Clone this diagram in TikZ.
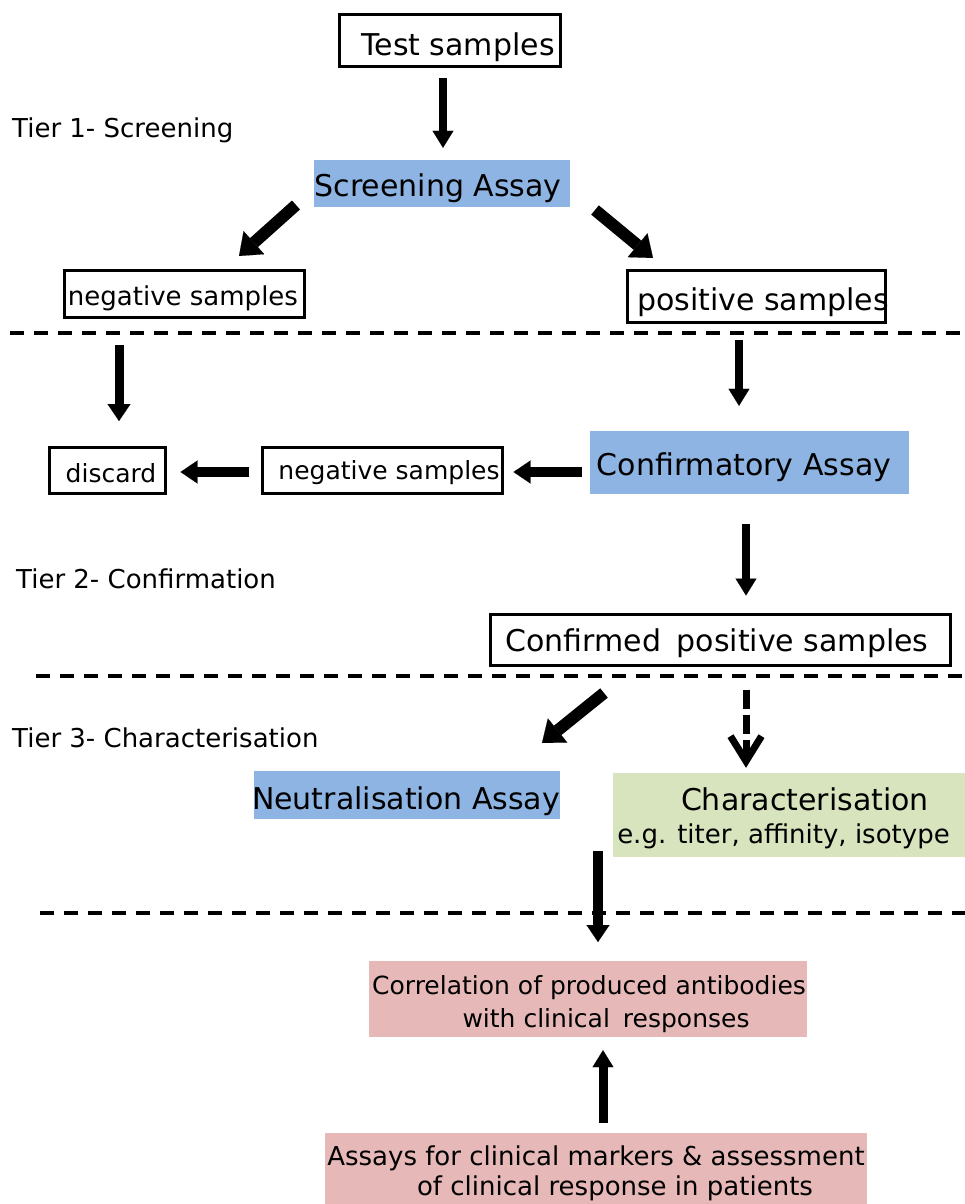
\documentclass[tikz,border=0pt]{standalone}
\usepackage{fontspec}
\setmainfont{DejaVu Sans}
\usetikzlibrary{arrows.meta}
\definecolor{bluef}{HTML}{8DB4E2}
\definecolor{greenf}{HTML}{D7E4BD}
\definecolor{pinkf}{HTML}{E6B9B8}
% width, horizontal shift, vertical drop, text
\newcommand{\bt}[4]{\raisebox{-#3pt}[\height][\depth]{\makebox[#1pt]{\hspace*{#2pt}#4}}}
\newcommand{\fs}[1]{\fontsize{#1}{33}\selectfont}
\begin{document}
\begin{tikzpicture}[x=1pt,y=-1pt,
  box/.style={draw, line width=3pt, inner sep=0pt},
  fillbox/.style={inner sep=0pt},
  tier/.style={anchor=west, inner sep=0pt, font=\fs{26}},
  vert/.style={line width=8pt, -{Triangle[length=17pt,width=21pt,line width=0.1pt]}},
  horiz/.style={line width=10pt, -{Triangle[length=17pt,width=23pt,line width=0.1pt]}},
  fat/.style={line width=12pt, -{Triangle[length=20pt,width=31pt,line width=0.1pt]}},
  dasharrow/.style={line width=7pt, dash pattern=on 19pt off 6pt, -{Straight Barb[length=25pt,width=31pt]}},
  sepline/.style={line width=4pt, dash pattern=on 14pt off 10pt}
]
\useasboundingbox (0,0) rectangle (965,1204);

% separators
\coordinate (s1a) at (10,333);  \coordinate (s1b) at (965,333);
\coordinate (s2a) at (36,676);  \coordinate (s2b) at (965,676);
\coordinate (s3a) at (40,913);  \coordinate (s3b) at (965,913);
\draw[sepline] (s1a) -- (s1b);
\draw[sepline] (s2a) -- (s2b);
\draw[sepline] (s3a) -- (s3b);

% tier labels
\node[tier] (t1) at (12,130) {Tier 1- Screening};
\node[tier] (t2) at (16,579) {Tier 2- Confirmation};
\node[tier] (t3) at (12,738) {Tier 3- Characterisation};

% nodes
\node[box, minimum width=221pt, minimum height=52pt, font=\fs{30}] (test) at (449.5,41) {\bt{221}{17}{6}{Test samples}};
\node[fillbox, fill=bluef, minimum width=256pt, minimum height=47pt, font=\fs{30}] (screen) at (442,183.5) {\bt{256}{-8}{5}{Screening Assay}};
\node[box, minimum width=240pt, minimum height=47pt, font=\fs{26}] (neg1) at (184,293.5) {\bt{240}{-2}{5}{negative samples}};
\node[box, minimum width=258pt, minimum height=52pt, font=\fs{30}] (pos1) at (756,296) {\bt{258}{14}{6}{positive samples}};
\node[box, minimum width=116pt, minimum height=46pt, font=\fs{25}] (discard) at (107,470) {\bt{116}{8}{3}{discard}};
\node[box, minimum width=240pt, minimum height=46pt, font=\fs{25}] (neg2) at (382,470) {\bt{240}{14}{3}{negative samples}};
\node[fillbox, fill=bluef, minimum width=319pt, minimum height=63pt, font=\fs{30}] (conf) at (749.5,462.5) {\bt{319}{-11}{5}{Confirmatory Assay}};
\node[box, minimum width=460pt, minimum height=51pt, font=\fs{30}] (cpos) at (720,639.5) {\bt{460}{-6}{4}{Confirmed\hspace{6pt} positive samples}};
\node[fillbox, fill=bluef, minimum width=306pt, minimum height=48pt, font=\fs{30}] (neut) at (407,795) {\bt{306}{-2}{6}{Neutralisation Assay}};
\node[fillbox, fill=greenf, minimum width=352pt, minimum height=84pt, align=center, font=\fs{26}] (charb) at (789,815)
  {{\fs{30}\bt{352}{32}{3}{Characterisation}}\\ \bt{352}{-11}{3}{e.g. titer, affinity, isotype}};
\node[fillbox, fill=pinkf, minimum width=438pt, minimum height=76pt, align=center, font=\fs{25}] (corr) at (588,999)
  {\bt{438}{2}{5}{Correlation of produced antibodies}\\ \bt{438}{36}{5}{with clinical\hspace{5pt} responses}};
\node[fillbox, fill=pinkf, minimum width=542pt, minimum height=71pt, align=center, font=\fs{26}] (assays) at (596,1168.5)
  {\bt{542}{0}{6}{Assays for clinical markers \& assessment}\\ \bt{542}{38}{3}{of clinical response in patients}};

% arrow end coordinates
\coordinate (a2s) at (296,205); \coordinate (a2e) at (239,256);
\coordinate (a3s) at (595,210); \coordinate (a3e) at (653,258);
\coordinate (a4s) at (119,345); \coordinate (a4e) at (119,421);
\coordinate (a9s) at (604,693); \coordinate (a9e) at (542,743);
\coordinate (a11s) at (598,851); \coordinate (a11e) at (598,942);

% arrows
\draw[vert, shorten <=10pt, shorten >=12pt] ([xshift=-6.5pt]test.south) -- ([xshift=1pt]screen.north);
\draw[fat] (a2s) -- (a2e);
\draw[fat] (a3s) -- (a3e);
\draw[horiz, line width=9pt] (a4s) -- (a4e);
\draw[vert, shorten <=16pt, shorten >=25pt] ([xshift=-17pt]pos1.south) -- ([xshift=-10.5pt]conf.north);
\draw[horiz, shorten <=8pt, shorten >=10pt] ([yshift=-9.5pt]conf.west) -- ([yshift=-2pt]neg2.east);
\draw[horiz, shorten <=12pt, shorten >=14pt] ([yshift=-2pt]neg2.west) -- ([yshift=-2pt]discard.east);
\draw[vert, shorten <=30pt, shorten >=17pt] ([xshift=-3.5pt]conf.south) -- ([xshift=26pt]cpos.north);
\draw[fat] (a9s) -- (a9e);
\draw[dasharrow, shorten <=23pt, shorten >=5pt] ([xshift=26pt]cpos.south) -- ([xshift=-43pt]charb.north);
\draw[horiz] (a11s) -- (a11e);
\draw[vert, line width=9pt, shorten <=10pt, shorten >=13pt] ([xshift=7pt]assays.north) -- ([xshift=15pt]corr.south);
\end{tikzpicture}
\end{document}
